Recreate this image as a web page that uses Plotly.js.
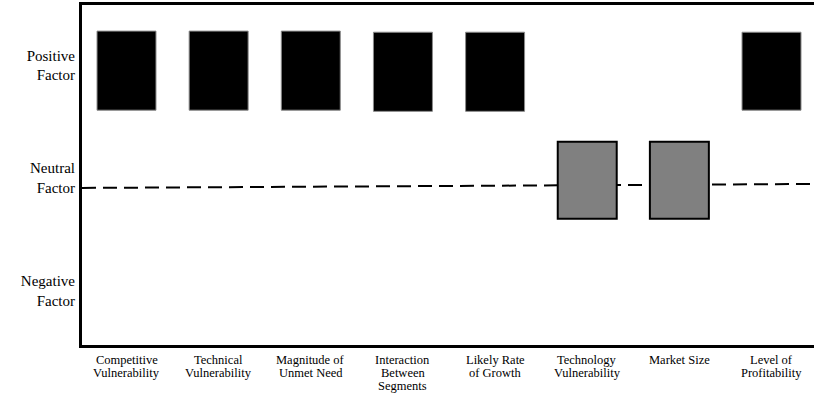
<!DOCTYPE html>
<html>
<head>
<meta charset="utf-8">
<script src="https://cdn.plot.ly/plotly-3.0.1.min.js"></script>
<style>html,body{margin:0;padding:0;background:#fff;}#chart{width:814px;height:396px;}</style>
</head>
<body>
<div id="chart"></div>
<script>
// Categories (x tick labels)
const categories = [
  "Competitive<br>Vulnerability",
  "Technical<br>Vulnerability",
  "Magnitude of<br>Unmet Need",
  "Interaction<br>Between<br>Segments",
  "Likely Rate<br>of Growth",
  "Technology<br>Vulnerability",
  "Market Size",
  "Level of<br>Profitability"
];
// Factor level of each category: 1 = positive, 0 = neutral, -1 = negative
const factorLevel = [1, 1, 1, 1, 1, 0, 0, 1];
// Box extents (in factor-scale units)
const boxTop    = [1.30, 1.30, 1.30, 1.29, 1.29, 0.32, 0.32, 1.29];
const boxBottom = [0.60, 0.60, 0.60, 0.59, 0.59, -0.36, -0.36, 0.60];
// Y tick values / labels
const yTickVals = [1, 0, -1];
const yTickText = ["Positive<br>Factor", "Neutral<br>Factor", "Negative<br>Factor"];
// Neutral dashed reference line (left end, right end)
const neutralLine = [-0.088, -0.053];

const SERIF = "'Liberation Serif', 'Times New Roman', Tinos, 'DejaVu Serif', serif";

const boxHeight = boxTop.map((t, i) => t - boxBottom[i]);
const fillColors = factorLevel.map(l => l === 1 ? "#000000" : "#808080");
const edgeColors = factorLevel.map(l => l === 1 ? "#8a8a8a" : "#000000");
const edgeWidths = factorLevel.map(l => l === 1 ? 1 : 2);

const trace = {
  type: "bar",
  x: categories,
  y: boxHeight,
  base: boxBottom,
  width: 0.64,
  marker: { color: fillColors, line: { color: edgeColors, width: edgeWidths } },
  hoverinfo: "skip"
};

// x labels as line-by-line annotations (tight line spacing like the reference)
const annotations = [];
categories.forEach(cat => {
  cat.split("<br>").forEach((line, i) => {
    annotations.push({
      xref: "x", yref: "paper", x: cat, y: 0,
      xanchor: "center", yanchor: "top",
      yshift: -6 - 13 * i,
      text: line, showarrow: false,
      font: { family: SERIF, size: 12.5, color: "#000" }
    });
  });
});

const layout = {
  width: 814,
  height: 396,
  margin: { l: 82, r: 0, t: 5, b: 51, pad: 0 },
  paper_bgcolor: "#ffffff",
  plot_bgcolor: "#ffffff",
  showlegend: false,
  font: { family: SERIF, color: "#000" },
  xaxis: {
    type: "category",
    range: [-0.483, 7.461],
    showgrid: false,
    zeroline: false,
    showline: true,
    mirror: true,
    linecolor: "#000",
    linewidth: 3,
    ticks: "",
    showticklabels: false,
    fixedrange: true
  },
  yaxis: {
    range: [-1.478, 1.531],
    showgrid: false,
    zeroline: false,
    showline: true,
    linecolor: "#000",
    linewidth: 3,
    ticks: "",
    tickvals: yTickVals,
    ticktext: yTickText,
    ticklabelstandoff: 1,
    tickfont: { size: 15, family: SERIF, color: "#000" },
    fixedrange: true
  },
  annotations: annotations,
  shapes: [{
    type: "line",
    layer: "below",
    xref: "paper", yref: "y",
    x0: 0, x1: 1,
    y0: neutralLine[0], y1: neutralLine[1],
    line: { color: "#000", width: 2, dash: "14px,7px" }
  }]
};

Plotly.newPlot("chart", [trace], layout, { displayModeBar: false, staticPlot: true });
</script>
</body>
</html>
